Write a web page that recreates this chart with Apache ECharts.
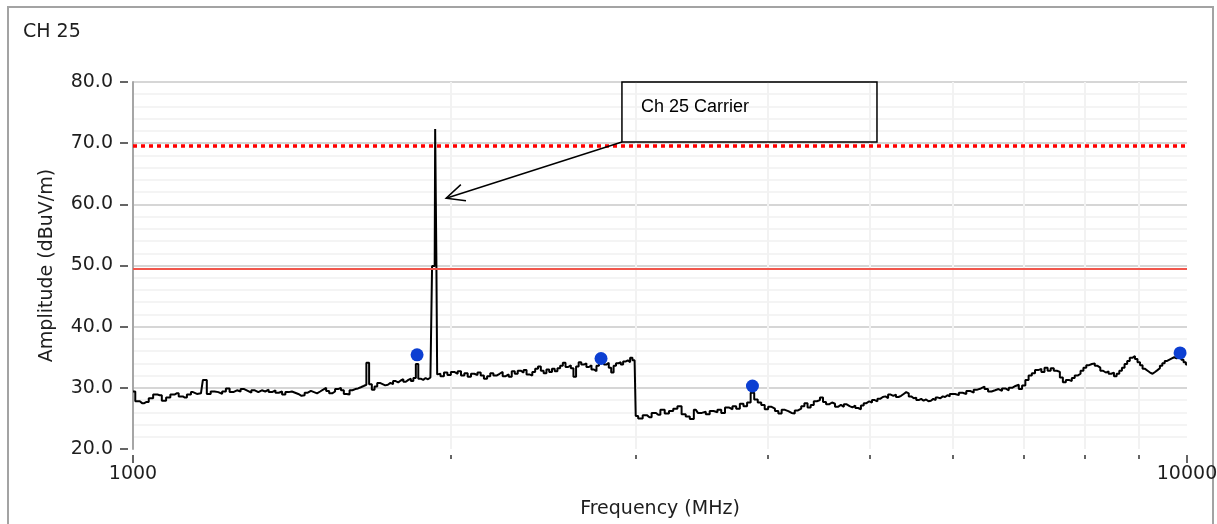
<!DOCTYPE html>
<html>
<head>
<meta charset="utf-8">
<title>CH 25</title>
<script src="https://cdn.jsdelivr.net/npm/echarts@6/dist/echarts.min.js"></script>
<style>
  html, body { margin: 0; padding: 0; background: #ffffff; }
  #chart { width: 1217px; height: 524px; }
</style>
</head>
<body>
<div id="chart"></div>
<script>
// ---- Measured sweep (frequency in MHz, amplitude in dBuV/m) ----
// Each band is a uniform sweep: start frequency, step, then the readings.
const bandLowStart = 1000, bandLowStep = 10;
const bandLow = [
  29.4, 27.8, 27.5, 27.7, 28.3, 28.9, 28.8, 27.9, 28.4, 28.9,
  29.1, 28.6, 28.4, 28.9, 29.3, 29.0, 29.1, 31.3, 29.0, 29.4,
  29.3, 29.0, 29.4, 29.9, 29.3, 29.6, 29.4, 29.8, 29.5, 29.2,
  29.6, 29.3, 29.6, 29.4, 29.7, 29.3, 29.6, 29.2, 29.4, 28.9,
  29.3, 29.4, 29.2, 29.0, 28.7, 28.8, 29.2, 29.5, 29.3, 29.1,
  29.4, 29.7, 30.0, 29.5, 29.1, 29.4, 29.8, 30.0, 29.6, 29.0,
  28.9, 29.6, 29.8, 29.9, 30.1, 30.3, 30.5, 34.1, 30.6, 29.7,
  30.2, 30.8, 30.6, 30.4, 30.5, 30.8, 30.6, 31.1, 30.9, 31.2,
  31.4, 31.0, 31.3, 31.5, 31.1, 31.6, 33.9, 31.5, 31.3, 31.6,
  31.4, 31.7
];

// Ch 25 carrier and its shoulder
const carrierPoints = [
  [1920, 31.8], [1924, 49.9], [1933, 49.9], [1937, 72.3],
  [1939, 72.3], [1941, 51.6], [1946, 32.2]
];

const bandMidStart = 1950, bandMidStep = 15;
const bandMid = [
  32.3, 31.9, 32.5, 32.1, 32.6, 32.3, 32.7, 32.0, 32.4, 31.8,
  32.3, 32.1, 32.5, 32.0, 31.5, 31.9, 32.4, 32.0, 32.3, 32.6,
  31.9, 32.2, 31.8, 32.7, 32.3, 32.8, 32.5, 32.9, 32.2, 32.0,
  32.6, 33.1, 33.5, 32.8, 32.4, 33.0, 32.6, 33.1, 32.7, 33.2,
  33.6, 34.1, 33.4, 33.7, 33.2, 31.8, 33.5, 34.2, 33.8, 34.0,
  33.4, 33.7, 33.0, 32.7, 33.6, 34.2, 34.5, 33.8, 34.1, 33.3,
  32.5, 33.6, 34.0, 34.2, 33.8, 34.3, 34.5, 34.2, 34.9, 34.5
];

// last reading before the 3 GHz band edge
const bandEdgePoints = [[2998, 34.6]];

const bandHighStart = 3000, bandHighStep = 30;
const bandHigh = [
  25.4, 25.0, 25.5, 25.2, 25.9, 25.6, 26.4, 25.8, 26.2, 26.6,
  27.0, 25.7, 25.3, 24.9, 26.4, 25.9, 26.1, 25.7, 26.2, 26.0,
  26.4, 25.9, 26.8, 26.5, 27.0, 26.6, 27.4, 27.0, 27.6, 29.2,
  28.1, 27.6, 27.2, 26.5, 26.9, 26.6, 26.2, 25.8, 26.4, 26.2,
  25.9, 25.8, 26.3, 26.6, 27.0, 27.5, 26.8, 27.2, 27.8, 28.0,
  28.4, 27.7, 27.3, 27.6, 27.4, 26.9, 27.2, 26.9, 27.3, 27.0,
  26.8, 27.1, 26.7, 26.5, 27.1, 27.5, 27.8, 27.6, 28.0, 27.8,
  28.2, 28.5, 28.6, 28.3, 28.9, 28.7, 28.9, 28.5, 28.7, 29.0,
  29.3, 29.1, 28.6, 28.3, 28.4, 28.0, 28.2, 27.9, 28.1, 27.8,
  27.9, 28.2, 28.0, 28.4, 28.3, 28.6, 28.5, 28.8, 28.6, 29.0
];

const bandTopStart = 6000, bandTopStep = 50;
const bandTop = [
  29.0, 28.8, 29.2, 29.0, 29.5, 29.2, 29.7, 29.9, 30.2, 29.8,
  29.4, 29.6, 29.8, 29.5, 29.9, 29.6, 30.0, 30.3, 30.5, 29.8,
  30.4, 31.3, 32.0, 32.4, 32.9, 33.1, 32.6, 33.3, 32.8, 33.2,
  32.8, 32.6, 31.7, 30.9, 31.3, 31.1, 31.6, 32.0, 32.3, 32.8,
  33.3, 33.7, 33.9, 34.0, 33.6, 33.3, 32.8, 32.5, 32.7, 32.3,
  32.5, 31.9, 32.3, 32.8, 33.3, 33.9, 34.4, 34.9, 35.2, 34.7,
  34.2, 33.7, 33.1, 32.8, 32.5, 32.3, 32.6, 32.9, 33.2, 33.6,
  34.0, 34.4, 34.6, 34.8, 35.0, 34.8, 35.1, 35.6, 34.6, 34.2,
  33.8
];

// Peak markers found by the receiver
const peakMarkers = [[1860, 35.4], [2780, 34.8], [3870, 30.3], [9850, 35.7]];

// Limit lines
const limitPeak = 69.5;
const limitAverage = 49.5;

// Axis ranges
const freqMin = 1000, freqMax = 10000;
const ampMin = 20, ampMax = 80, ampStep = 10;

// Callout for the carrier
const carrierNote = {
  text: 'Ch 25 Carrier',
  boxFrom: [2910, 80.0],
  boxTo: [5080, 70.2],
  pointAt: [1982, 61.0]
};

function sweep(start, step, values) {
  return values.map((v, i) => [start + i * step, v]);
}

const trace = [].concat(
  sweep(bandLowStart, bandLowStep, bandLow),
  carrierPoints,
  sweep(bandMidStart, bandMidStep, bandMid),
  bandEdgePoints,
  sweep(bandHighStart, bandHighStep, bandHigh),
  sweep(bandTopStart, bandTopStep, bandTop)
);

const textFont = 'DejaVu Sans';
const textColor = '#1e1e1e';

const chart = echarts.init(document.getElementById('chart'), null, { renderer: 'canvas' });

chart.setOption({
  animation: false,
  backgroundColor: '#ffffff',
  title: {
    text: 'CH 25',
    left: 18,
    top: 18,
    textStyle: { fontFamily: textFont, fontSize: 19, fontWeight: 'normal', color: textColor }
  },
  grid: { left: 133, right: 30, top: 82, bottom: 75, containLabel: false, outerBoundsMode: 'none' },
  xAxis: {
    type: 'log',
    logBase: 10,
    min: freqMin,
    max: freqMax,
    offset: 6,
    axisLine: { show: false },
    axisTick: { show: true, length: 8, lineStyle: { color: '#333333', width: 1.5 } },
    minorTick: { show: true, splitNumber: 9, length: 4, lineStyle: { color: '#333333', width: 1.5 } },
    splitLine: { show: false },
    minorSplitLine: { show: true, lineStyle: { color: '#f2f2f2', width: 2 } },
    axisLabel: {
      fontFamily: textFont, fontSize: 19, color: textColor, margin: 10,
      showMinLabel: true, showMaxLabel: true,
      formatter: (v) => String(Math.round(v))
    },
    name: 'Frequency (MHz)',
    nameLocation: 'middle',
    nameGap: 45,
    nameTextStyle: { fontFamily: textFont, fontSize: 19, color: textColor }
  },
  yAxis: [
    {
      type: 'value',
      min: ampMin, max: ampMax, interval: ampStep,
      axisLine: { show: true, lineStyle: { color: '#a6a6a6', width: 2 } },
      axisTick: { show: false },
      axisLabel: { show: false },
      splitLine: { show: true, showMinLine: false, lineStyle: { color: '#c9c9c9', width: 1.5 } },
      minorTick: { show: false, splitNumber: 5 },
      minorSplitLine: { show: true, lineStyle: { color: '#f1f1f1', width: 1.5 } },
      name: 'Amplitude (dBuV/m)',
      nameLocation: 'middle',
      nameGap: 76,
      nameTextStyle: { fontFamily: textFont, fontSize: 19, color: textColor }
    },
    {
      type: 'value',
      position: 'left',
      offset: 5,
      min: ampMin, max: ampMax, interval: ampStep,
      axisLine: { show: false },
      axisTick: { show: true, length: 8, lineStyle: { color: '#333333', width: 1.5 } },
      splitLine: { show: false },
      axisLabel: {
        fontFamily: textFont, fontSize: 19, color: textColor, margin: 15,
        formatter: (v) => v.toFixed(1)
      }
    }
  ],
  series: [
    {
      name: 'Limits',
      type: 'line',
      data: [],
      silent: true,
      markLine: {
        silent: true,
        symbol: ['none', 'none'],
        label: { show: false },
        emphasis: { disabled: true },
        data: [
          { yAxis: limitPeak, lineStyle: { color: '#ff0000', width: 3.5, type: [4, 4], cap: 'butt', opacity: 1 } },
          { yAxis: limitAverage, lineStyle: { color: '#f0564c', width: 2, type: 'solid', opacity: 1 } }
        ]
      }
    },
    {
      name: 'Trace',
      type: 'line',
      step: 'middle',
      data: trace,
      showSymbol: false,
      symbol: 'none',
      silent: true,
      lineStyle: { color: '#000000', width: 2 },
      z: 3
    },
    {
      name: 'Peaks',
      type: 'scatter',
      data: peakMarkers,
      symbol: 'circle',
      symbolSize: 13,
      silent: true,
      itemStyle: { color: '#0c3fd2', opacity: 1 },
      z: 4
    }
  ]
});

// Callout box and arrow, anchored to data coordinates
function px(p) { return chart.convertToPixel({ gridIndex: 0 }, p); }
const b0 = px(carrierNote.boxFrom);
const b1 = px(carrierNote.boxTo);
const tip = px(carrierNote.pointAt);
const tail = [b0[0], b1[1]];
const dx = tail[0] - tip[0], dy = tail[1] - tip[1];
const len = Math.hypot(dx, dy);
const ux = dx / len, uy = dy / len;
const wing = 20, ang = 25 * Math.PI / 180;
function rot(a) {
  return [tip[0] + wing * (ux * Math.cos(a) - uy * Math.sin(a)),
          tip[1] + wing * (ux * Math.sin(a) + uy * Math.cos(a))];
}

chart.setOption({
  graphic: [
    {
      type: 'rect', silent: true, z: 0,
      shape: { x: 8, y: 7, width: 1205, height: 530 },
      style: { fill: 'none', stroke: '#a3a3a3', lineWidth: 2 }
    },
    {
      type: 'rect', silent: true, z: 10,
      shape: { x: b0[0], y: b0[1], width: b1[0] - b0[0], height: b1[1] - b0[1] },
      style: { fill: 'none', stroke: '#000000', lineWidth: 1.5 }
    },
    {
      type: 'text', silent: true, z: 10,
      x: b0[0] + 19, y: b0[1] + 25,
      style: {
        text: carrierNote.text, fill: '#000000',
        font: '18px "Liberation Sans", Arial, sans-serif',
        textVerticalAlign: 'middle', verticalAlign: 'middle'
      }
    },
    {
      type: 'line', silent: true, z: 10,
      shape: { x1: tail[0], y1: tail[1], x2: tip[0], y2: tip[1] },
      style: { stroke: '#000000', lineWidth: 1.5 }
    },
    {
      type: 'polyline', silent: true, z: 10,
      shape: { points: [rot(ang), tip, rot(-ang)] },
      style: { fill: 'none', stroke: '#000000', lineWidth: 1.5 }
    }
  ]
});
</script>
</body>
</html>
